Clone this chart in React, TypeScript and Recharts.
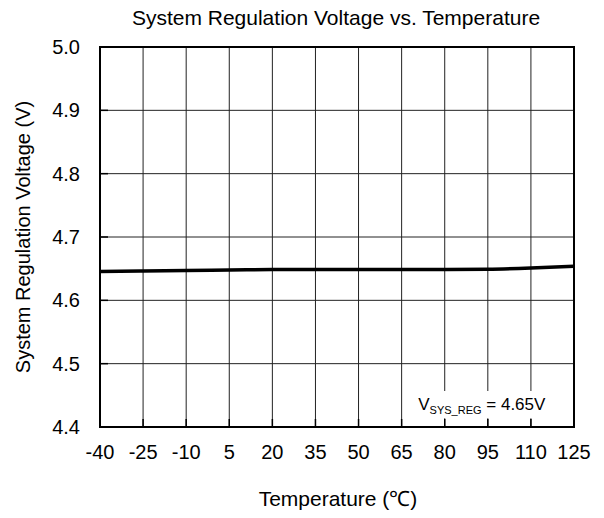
import React from 'react';
import {
  LineChart,
  Line,
  XAxis,
  YAxis,
  CartesianGrid,
  ReferenceArea,
} from 'recharts';

// temperature (°C) and regulation voltage (V)
const temps = [-40, -25, -10, 5, 20, 35, 50, 65, 80, 95, 110, 125];
const vsysReg = [4.6455, 4.6465, 4.647, 4.648, 4.6485, 4.6485, 4.6485, 4.6485, 4.6485, 4.649, 4.651, 4.654];

const xTicks = [-40, -25, -10, 5, 20, 35, 50, 65, 80, 95, 110, 125];
const yTicks = [4.4, 4.5, 4.6, 4.7, 4.8, 4.9, 5.0];

const data = temps.map((t, i) => ({ t, v: vsysReg[i] }));

const FONT = '"Liberation Sans", Arial, sans-serif';

const XTick = (p: any) => (
  <g>
    <line x1={p.x} y1={p.y} x2={p.x} y2={p.y - 8} stroke="#000" strokeWidth={1.5} />
    <text x={p.x} y={p.y + 32} textAnchor="middle" fontFamily={FONT} fontSize={20} fill="#000">
      {p.payload.value}
    </text>
  </g>
);

const YTick = (p: any) => (
  <g>
    <line x1={p.x} y1={p.y} x2={p.x + 8} y2={p.y} stroke="#000" strokeWidth={1.5} />
    <text x={p.x - 20} y={p.y + 7} textAnchor="end" fontFamily={FONT} fontSize={20} fill="#000">
      {Number(p.payload.value).toFixed(1)}
    </text>
  </g>
);

// V_SYS_REG note in the white box
const NoteLabel = (p: any) => {
  const vb = p.viewBox || { x: 0, y: 0 };
  return (
    <text x={vb.x + 8} y={vb.y + 19} fontFamily={FONT} fontSize={17} fill="#000">
      V<tspan fontSize={11} dy={4}>SYS_REG</tspan>
      <tspan dy={-4}> = 4.65V</tspan>
    </text>
  );
};

export default function App() {
  return (
    <div style={{ position: 'absolute', left: 0, top: 0, background: '#fff' }}>
      <LineChart
        width={604}
        height={518}
        data={data}
        margin={{ top: 47, right: 30, left: 40, bottom: 61 }}
      >
        <CartesianGrid stroke="#222" strokeWidth={1} />
        <ReferenceArea
          x1={68}
          x2={125}
          y1={4.414}
          y2={4.457}
          fill="#fff"
          fillOpacity={1}
          stroke="none"
          label={<NoteLabel />}
        />
        <XAxis
          dataKey="t"
          type="number"
          domain={[-40, 125]}
          ticks={xTicks}
          height={30}
          tickSize={0}
          tickMargin={0}
          axisLine={false}
          tickLine={false}
          tick={<XTick />}
          interval={0}
        />
        <YAxis
          type="number"
          domain={[4.4, 5.0]}
          ticks={yTicks}
          width={60}
          tickSize={0}
          tickMargin={0}
          axisLine={false}
          tickLine={false}
          tick={<YTick />}
          interval={0}
        />
        <Line
          type="monotone"
          dataKey="v"
          stroke="#000"
          strokeWidth={3.5}
          dot={false}
          isAnimationActive={false}
        />
        <ReferenceArea x1={-40} x2={125} y1={4.4} y2={5.0} fill="none" stroke="#000" strokeWidth={2} />
        <text x={336} y={25} textAnchor="middle" fontFamily={FONT} fontSize={21} fill="#000">
          System Regulation Voltage vs. Temperature
        </text>
        <text x={338} y={506} textAnchor="middle" fontFamily={FONT} fontSize={21} fill="#000">
          Temperature (℃)
        </text>
        <text
          x={30}
          y={237}
          textAnchor="middle"
          transform="rotate(-90 30 237)"
          fontFamily={FONT}
          fontSize={20}
          fill="#000"
        >
          System Regulation Voltage (V)
        </text>
      </LineChart>
    </div>
  );
}
